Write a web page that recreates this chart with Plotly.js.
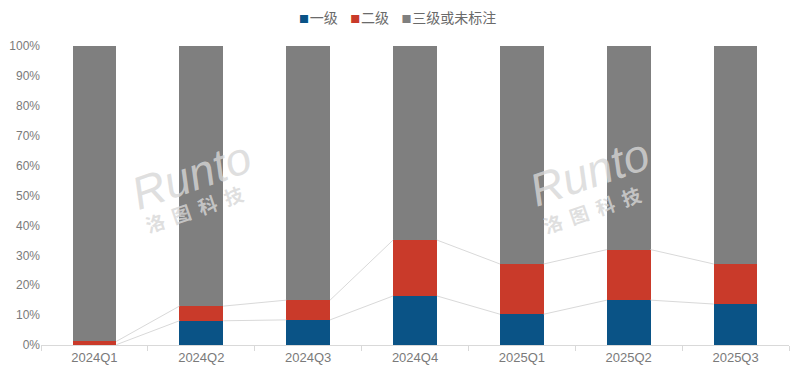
<!DOCTYPE html>
<html>
<head>
<meta charset="utf-8">
<script src="https://cdn.plot.ly/plotly-3.0.1.min.js"></script>
<style>html,body{margin:0;padding:0;background:#fff;}#chart{width:790px;height:378px;}</style>
</head>
<body>
<div id="chart"></div>
<script>
const categories = ["2024Q1","2024Q2","2024Q3","2024Q4","2025Q1","2025Q2","2025Q3"];
const level1 = [0.1, 8.1, 8.4, 16.4, 10.3, 15.0, 13.7];
const level2 = [1.1, 4.9, 6.6, 18.7, 16.8, 16.9, 13.4];
const level3 = categories.map((c, i) => +(100 - level1[i] - level2[i]).toFixed(1));
const seriesNames = ["一级", "二级", "三级或未标注"];
const yTickVals = [0,10,20,30,40,50,60,70,80,90,100];
const yTickText = yTickVals.map(v => v + "%");

const colors = ["#0a5386", "#c93a2a", "#7f7f7f"];
const barWidth = 0.41;
const idx = categories.map((c, i) => i);
const font = "'Liberation Sans', Arial, 'Noto Sans CJK SC', sans-serif";
const textColor = "#7a7a7a";

function connector(tops) {
  const xs = [], ys = [];
  for (let i = 0; i < tops.length - 1; i++) {
    xs.push(i + barWidth / 2, i + 1 - barWidth / 2, null);
    ys.push(tops[i], tops[i + 1], null);
  }
  return {x: xs, y: ys, type: 'scatter', mode: 'lines', line: {color: '#d9d9d9', width: 1},
          showlegend: false, hoverinfo: 'skip', connectgaps: false};
}
const top1 = level1;
const top2 = level1.map((v, i) => v + level2[i]);

const traces = [
  {x: idx, y: level1, name: seriesNames[0], type: 'bar', width: barWidth, marker: {color: colors[0]}},
  {x: idx, y: level2, name: seriesNames[1], type: 'bar', width: barWidth, marker: {color: colors[1]}},
  {x: idx, y: level3, name: seriesNames[2], type: 'bar', width: barWidth, marker: {color: colors[2]}},
  connector(top1),
  connector(top2)
];

const wmColor = 'rgba(215,215,215,0.8)';
const wm = (x, y1, y2) => [
  {xref: 'paper', yref: 'paper', x: x, y: y1, xanchor: 'center', yanchor: 'middle', text: '<i>Runto</i>', showarrow: false,
   font: {family: font, size: 46, color: wmColor}, textangle: -19},
  {xref: 'paper', yref: 'paper', x: x + 0.003, y: y2, xanchor: 'center', yanchor: 'middle', text: '<b>洛&nbsp;&nbsp;图&nbsp;&nbsp;科&nbsp;&nbsp;技</b>', showarrow: false,
   font: {family: "'Noto Sans CJK SC', sans-serif", size: 19, color: wmColor}, textangle: -19}
];

const legendText = seriesNames.map((n, i) =>
  '<span style="color:' + colors[i] + ';font-size:10px">■</span><span style="font-size:3px">&nbsp;</span>' + n).join('&nbsp;&nbsp;&nbsp;&nbsp;');

const layout = {
  width: 790, height: 378,
  margin: {l: 41, r: 1, t: 46, b: 33, autoexpand: false},
  barmode: 'stack',
  paper_bgcolor: '#fff', plot_bgcolor: '#fff',
  font: {family: font, size: 12, color: textColor},
  showlegend: false,
  xaxis: {type: 'linear', range: [-0.5, 6.5], tickvals: idx, ticktext: categories,
          showgrid: false, zeroline: false, showline: true, linecolor: '#d9d9d9', linewidth: 1,
          ticks: '', tickfont: {size: 13, color: textColor},
          minor: {tick0: -0.5, dtick: 1, ticks: 'outside', ticklen: 5, tickcolor: '#d9d9d9', showgrid: false}},
  yaxis: {range: [0, 100], tickvals: yTickVals, ticktext: yTickText, showgrid: false, zeroline: false,
          showline: false, ticks: '', tickfont: {size: 12, color: textColor}},
  annotations: [
    {xref: 'paper', yref: 'paper', x: 0.477, y: 1.097, xanchor: 'center', yanchor: 'middle', showarrow: false,
     text: legendText, font: {family: "'Noto Sans CJK SC', 'Liberation Sans', sans-serif", size: 14, color: '#6a6a6a'}},
    ...wm(0.2016, 0.569, 0.458), ...wm(0.733, 0.579, 0.452)
  ]
};

Plotly.newPlot('chart', traces, layout, {displayModeBar: false, staticPlot: true});
</script>
</body>
</html>
